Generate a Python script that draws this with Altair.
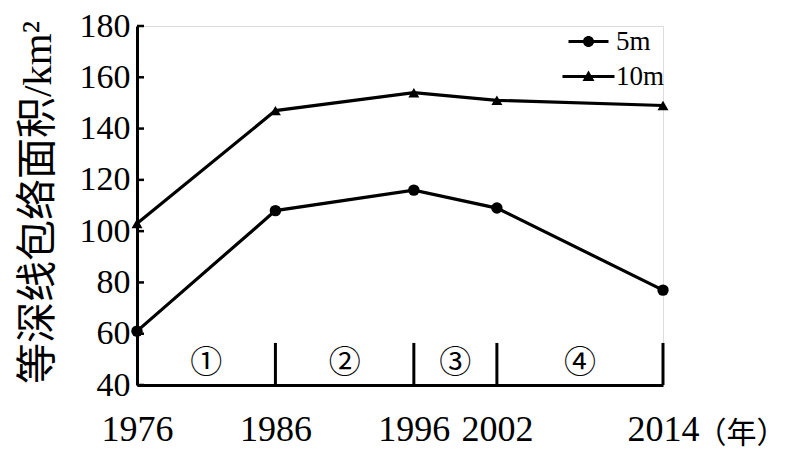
import altair as alt
import pandas as pd

years = [1976, 1986, 1996, 2002, 2014]
area_5m = [61, 108, 116, 109, 77]
area_10m = [103, 147, 154, 151, 149]
series_names = ["5m", "10m"]
y_ticks = [40, 60, 80, 100, 120, 140, 160, 180]
stage_labels = ["①", "②", "③", "④"]
stage_bottom = 40
stage_top = 56.4
stage_label_level = 48.6

SERIF = "'Liberation Serif', 'Noto Sans CJK SC'"
CJK = "'Noto Sans CJK SC'"

df = pd.DataFrame({
    "year": years * 2,
    "area": area_5m + area_10m,
    "series": ["5m"] * len(years) + ["10m"] * len(years),
})
df_bounds = pd.DataFrame({"year": years[1:], "area": [stage_bottom] * 4, "area2": [stage_top] * 4})
df_stage = pd.DataFrame({
    "year": [(a + b) / 2 for a, b in zip(years[:-1], years[1:])],
    "area": [stage_label_level] * 4,
    "label": stage_labels,
})
df_ticks = pd.DataFrame({"area": y_ticks})

x_enc = alt.X("year:Q",
    scale=alt.Scale(domain=[1976, 2014], nice=False, zero=False),
    axis=alt.Axis(values=years, format="d", title="（年）", grid=False, ticks=False,
                  domainColor="black", domainWidth=3,
                  labelFont=SERIF, labelFontSize=36, labelColor="black", labelPadding=27,
                  labelFlush=False, labelOverlap=False,
                  titleFont=SERIF, titleFontSize=30, titleFontWeight="normal", titleColor="black",
                  titleX=559, titleY=48, titleAlign="left", titleBaseline="middle"))
y_enc = alt.Y("area:Q",
    scale=alt.Scale(domain=[40, 180], nice=False, zero=False),
    axis=alt.Axis(values=y_ticks, title="等深线包络面积/km²", grid=False, ticks=False,
                  domainColor="black", domainWidth=3,
                  labelFont=SERIF, labelFontSize=34, labelColor="black", labelPadding=7,
                  labelFlush=False, labelOverlap=False,
                  titleFont=SERIF, titleFontSize=41, titleFontWeight="normal", titleColor="black",
                  titleX=-99, titleY=176, titleAngle=-90, titleAlign="center", titleBaseline="middle"))

lines = alt.Chart(df).mark_line(color="black", strokeWidth=3.2).encode(
    x=x_enc, y=y_enc, detail="series:N")

pts5 = alt.Chart(df).transform_filter(alt.datum.series == "5m").mark_point(
    shape="circle", filled=True, color="black", size=130, opacity=1).encode(x=x_enc, y=y_enc)
pts10 = alt.Chart(df).transform_filter(alt.datum.series == "10m").mark_point(
    shape="triangle-up", filled=True, color="black", size=120, opacity=1).encode(x=x_enc, y=y_enc)

path5 = ("M-2.0,-0.14H2.0V0.14H-2.0Z "
         "M-0.55,0A0.55,0.55,0,1,1,0.55,0A0.55,0.55,0,1,1,-0.55,0Z")
path10 = ("M-2.6,-0.14H2.6V0.14H-2.6Z "
          "M0,-0.6L0.6,0.45L-0.6,0.45Z")

legend_layer = alt.Chart(df).mark_point(filled=True, color="black", opacity=0).encode(
    x=x_enc, y=y_enc,
    shape=alt.Shape("series:N",
        scale=alt.Scale(domain=series_names, range=[path5, path10]),
        legend=alt.Legend(title=None, orient="none", legendX=438, legendY=2,
                          labelFont=SERIF, labelFontSize=27, labelColor="black",
                          symbolSize=400, symbolOpacity=1, symbolFillColor="black",
                          symbolStrokeWidth=0, labelOffset=14, rowPadding=7, padding=0)))

bounds = alt.Chart(df_bounds).mark_rule(color="black", strokeWidth=3).encode(
    x=x_enc, y=y_enc, y2="area2:Q")

stages = alt.Chart(df_stage).mark_text(font=CJK, fontSize=32, color="black",
                                       baseline="middle", align="center").encode(
    x=x_enc, y=y_enc, text="label:N")

ticks = alt.Chart(df_ticks).mark_rule(color="black", strokeWidth=2.5).encode(
    x=alt.value(0), x2=alt.value(7), y=y_enc)

chart = alt.layer(lines, pts5, pts10, legend_layer, bounds, stages, ticks).properties(
    width=526, height=359,
    autosize=alt.AutoSizeParams(type="none"),
    padding={"left": 129, "top": 18, "right": 129, "bottom": 70},
).configure_view(stroke=None).configure(background="white")

chart.save("out.html", embed_options={"renderer": "svg", "actions": False})
